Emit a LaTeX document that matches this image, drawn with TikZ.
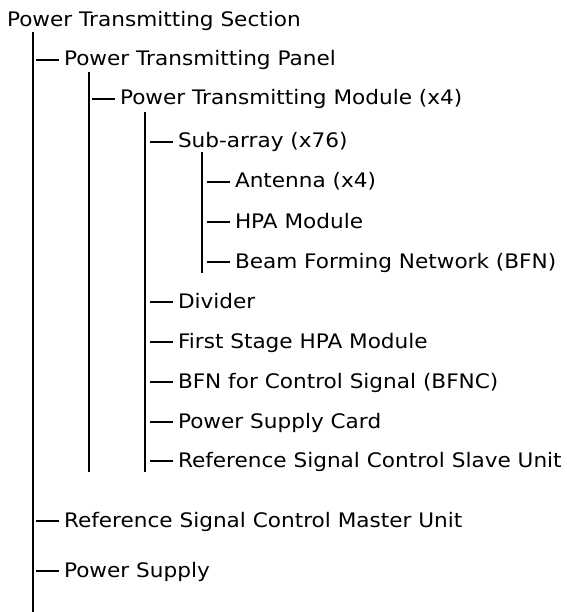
\documentclass[tikz,border=0pt]{standalone}
\usepackage{fontspec}
\setmainfont[FakeStretch=1.08]{DejaVu Sans}
\usetikzlibrary{calc}
\tikzset{
  item/.style={anchor=base west, inner sep=0pt, outer sep=0pt, font=\fontsize{20}{20}\selectfont},
  trunk/.style={line width=2.5pt},
  twig/.style={line width=1.2pt},
}
% a branch: short rule ending just left of the item text
\newcommand{\twigto}[1]{\draw[twig] ($(#1.base west)+(-28,-6)$) -- ($(#1.base west)+(-5,-6)$);}
\begin{document}
\begin{tikzpicture}[x=1pt,y=-1pt]
\useasboundingbox (0,0) rectangle (566,612);
% level 0
\node[item] (sec) at (7,27) {Power Transmitting Section};
% level 1
\node[item] (pan) at (64,66) {Power Transmitting Panel};
\node[item] (mst) at (64,527) {Reference Signal Control Master Unit};
\node[item] (psu) at (64,577) {Power Supply};
% level 2
\node[item] (mod) at (120,105) {Power Transmitting Module (x4)};
% level 3
\node[item] (sub) at (178,148) {Sub-array (x76)};
\node[item] (div) at (178,308) {Divider};
\node[item] (fst) at (178,348) {First Stage HPA Module};
\node[item] (bfc) at (178,388) {BFN for Control Signal (BFNC)};
\node[item] (psc) at (178,428) {Power Supply Card};
\node[item] (slv) at (178,467) {Reference Signal Control Slave Unit};
% level 4
\node[item] (ant) at (235,188) {Antenna (x4)};
\node[item] (hpa) at (235,228) {HPA Module};
\node[item] (bfn) at (235,268) {Beam Forming Network (BFN)};
% vertical trunks
\coordinate (t1a) at (33,32);  \coordinate (t1b) at (33,612);
\coordinate (t2a) at (89,72);  \coordinate (t2b) at (89,472);
\coordinate (t3a) at (145,112); \coordinate (t3b) at (145,472);
\coordinate (t4a) at (202,152); \coordinate (t4b) at (202,273);
\draw[trunk] (t1a) -- (t1b);
\draw[trunk] (t2a) -- (t2b);
\draw[trunk] (t3a) -- (t3b);
\draw[trunk] (t4a) -- (t4b);
% branches
\foreach \n in {pan,mst,psu,mod,sub,div,fst,bfc,psc,slv,ant,hpa,bfn} {\twigto{\n}}
\end{tikzpicture}
\end{document}
